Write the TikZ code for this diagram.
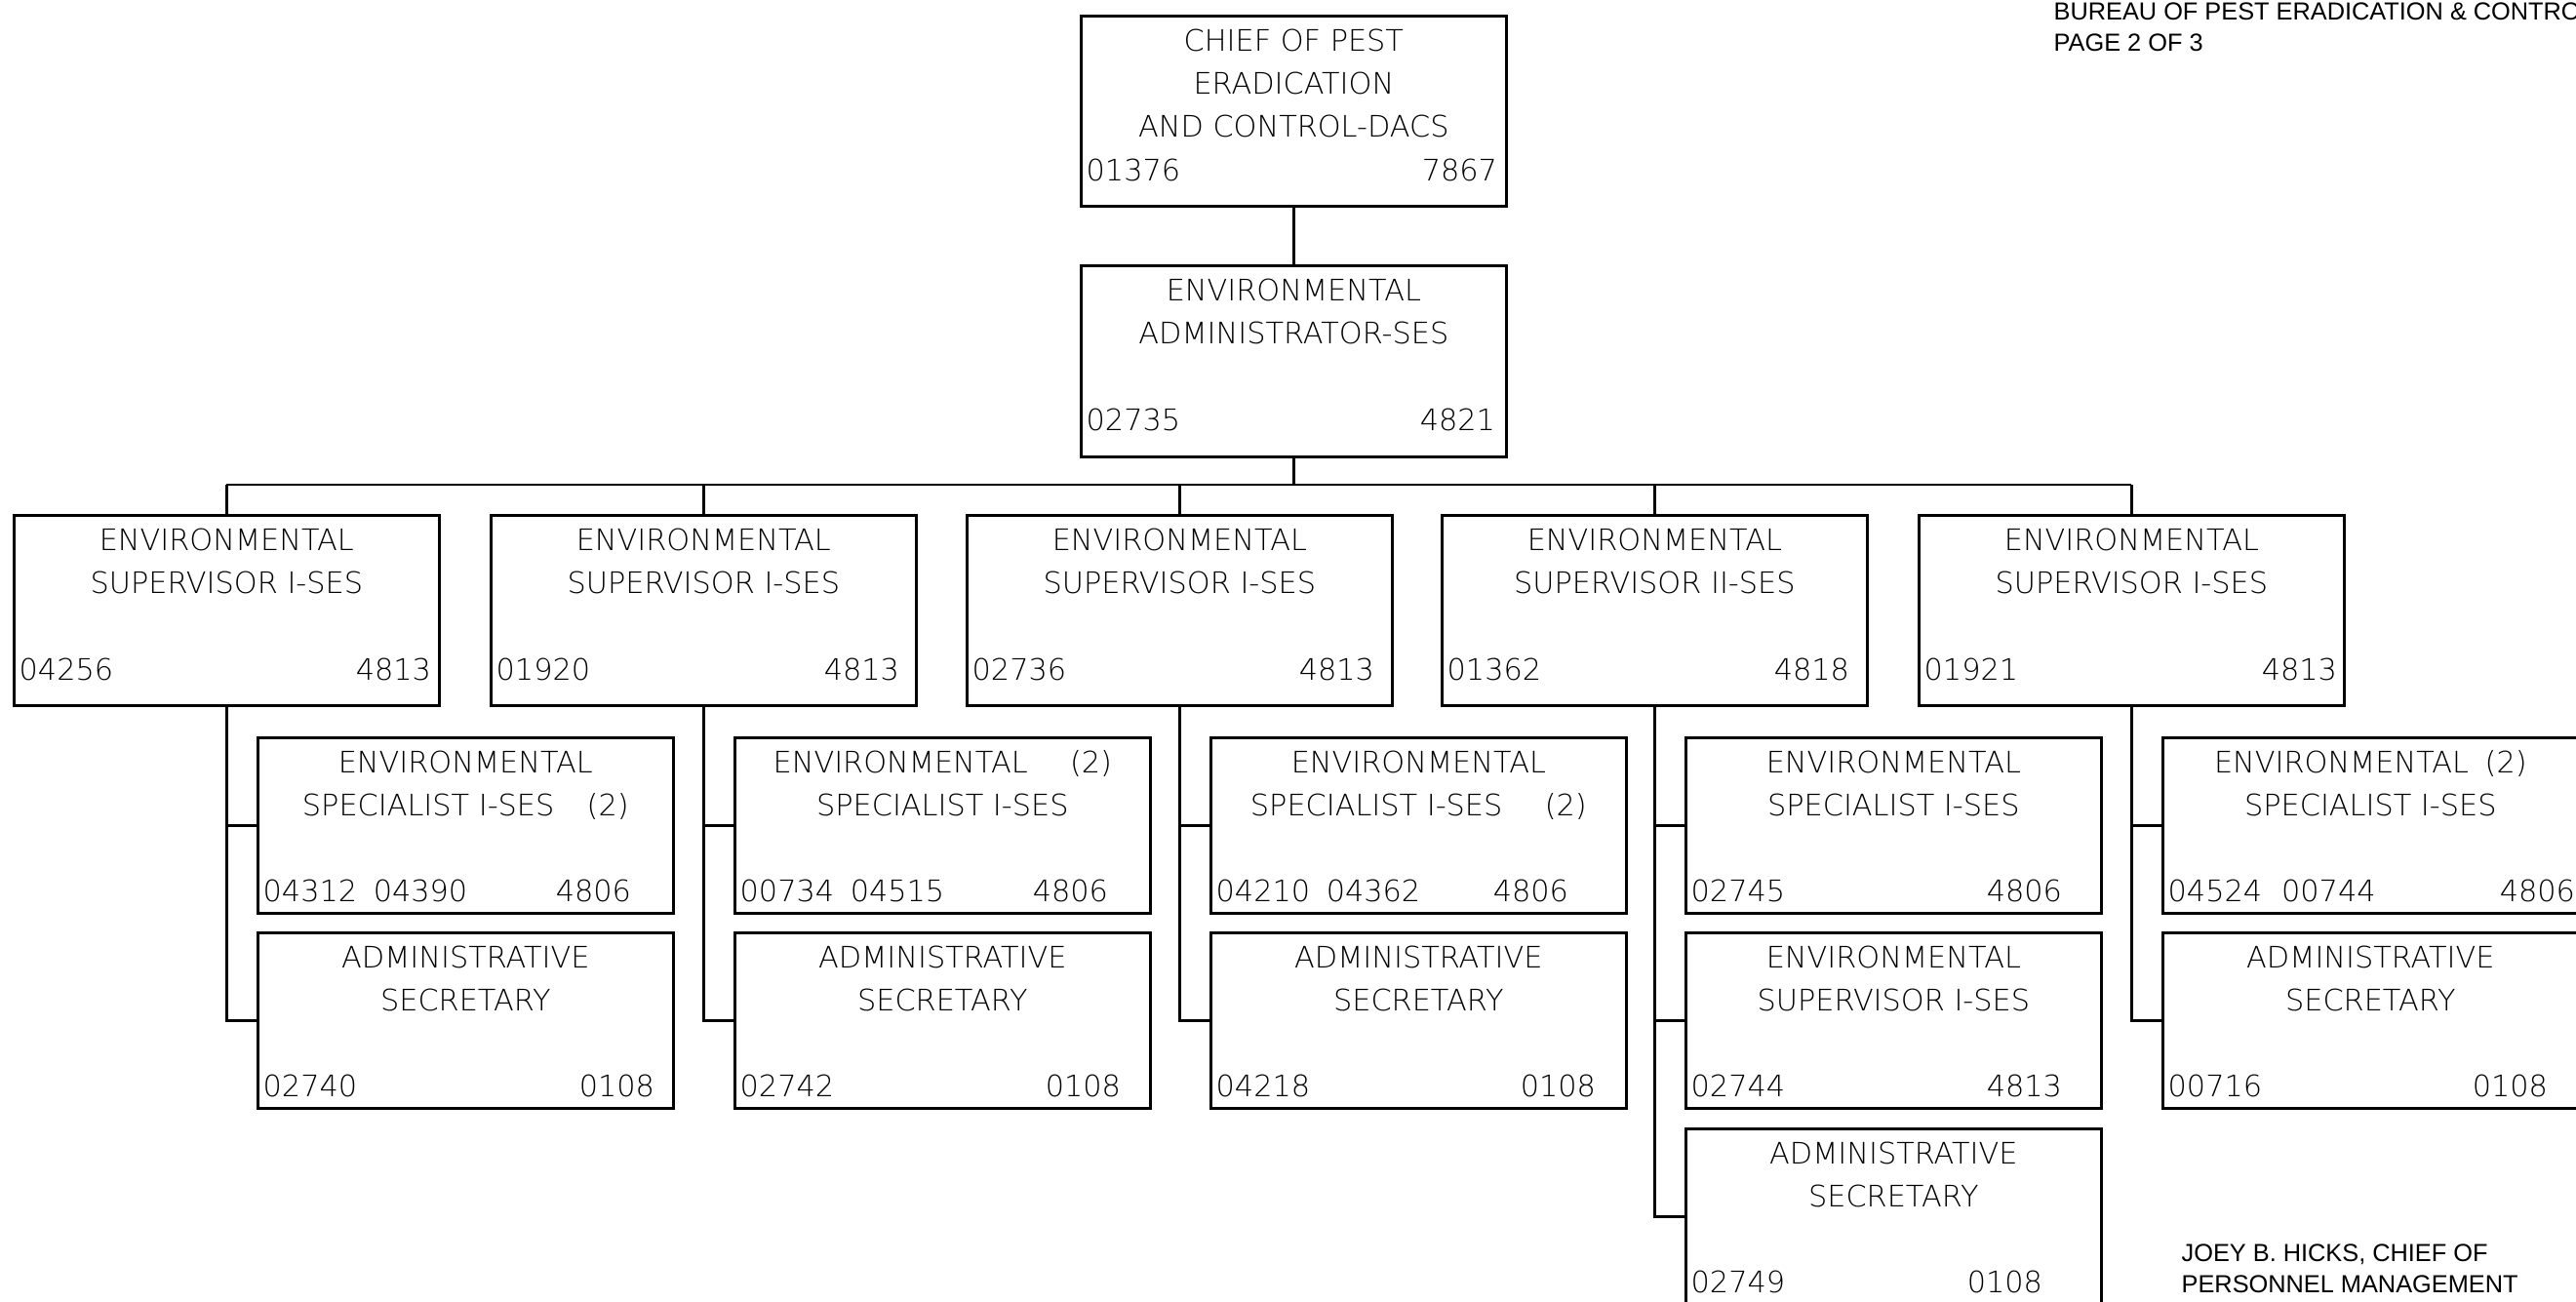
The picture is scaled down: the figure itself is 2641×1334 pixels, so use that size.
\documentclass[tikz,border=0pt]{standalone}
\usepackage{fontspec}
\usetikzlibrary{calc}
\newfontfamily\boxfont{DejaVu Sans ExtraLight}
\newfontfamily\notefont{Liberation Sans}

% a position box: name, left x, top y, width, height (all in px units)
\newcommand\orgbox[5]{%
  \node[posbox,minimum width=#4*0.3pt,minimum height=#5*0.3pt] (#1) at (#2,#3) {};}
% title lines, hung from the top edge of a box
\newcommand\orgtitle[2]{%
  \node[boxtitle] (#1-t) at ($(#1.north)+(0,14)$) {#2};}
% position numbers: name, left text, right text, right gap, baseline lift
\newcommand\orgnums[5]{%
  \node[numl] (#1-l) at ($(#1.south west)+(6,-#5)$) {#2};
  \node[numr] (#1-r) at ($(#1.south east)+(-#4,-#5)$) {#3};}

\begin{document}
\begin{tikzpicture}[x=0.3pt,y=-0.3pt,
  posbox/.style={draw,line width=0.8pt,rectangle,inner sep=0pt,anchor=north west},
  wire/.style={line width=0.8pt},
  boxtitle/.style={anchor=north,inner sep=0pt,align=center,
    font=\boxfont\fontsize{9.1}{13.2}\selectfont},
  numl/.style={anchor=base west,inner sep=0pt,font=\boxfont\fontsize{9.1}{11}\selectfont},
  numr/.style={anchor=base east,inner sep=0pt,font=\boxfont\fontsize{9.1}{11}\selectfont},
  note/.style={anchor=base west,inner sep=0pt,align=left,
    font=\notefont\fontsize{7.6}{9.4}\selectfont}]
\useasboundingbox (0,0) rectangle (2641,1334);

% ---- header and signature notes (placed by the baseline of their last line)
\node[note] (hdr) at (2105,52) {BUREAU OF PEST ERADICATION \& CONTROL\\PAGE 2 OF 3};
\node[note] (sig) at (2236,1325) {JOEY B. HICKS, CHIEF OF\\PERSONNEL MANAGEMENT};

% ---- chief and administrator
\orgbox{chief}{1107}{15}{436}{195}
\orgtitle{chief}{CHIEF OF PEST\\ERADICATION\\AND CONTROL-DACS}
\orgnums{chief}{01376}{7867}{10}{27}

\orgbox{admin}{1107}{271}{436}{196}
\orgtitle{admin}{ENVIRONMENTAL\\ADMINISTRATOR-SES}
\orgnums{admin}{02735}{4821}{12}{28}

% ---- supervisors
\orgbox{supA}{13}{527}{436}{195}
\orgtitle{supA}{ENVIRONMENTAL\\SUPERVISOR I-SES}
\orgnums{supA}{04256}{4813}{9}{27}

\orgbox{supB}{502}{527}{436}{195}
\orgtitle{supB}{ENVIRONMENTAL\\SUPERVISOR I-SES}
\orgnums{supB}{01920}{4813}{18}{27}

\orgbox{supC}{990}{527}{436}{195}
\orgtitle{supC}{ENVIRONMENTAL\\SUPERVISOR I-SES}
\orgnums{supC}{02736}{4813}{19}{27}

\orgbox{supD}{1477}{527}{436}{195}
\orgtitle{supD}{ENVIRONMENTAL\\SUPERVISOR II-SES}
\orgnums{supD}{01362}{4818}{19}{27}

\orgbox{supE}{1966}{527}{436}{195}
\orgtitle{supE}{ENVIRONMENTAL\\SUPERVISOR I-SES}
\orgnums{supE}{01921}{4813}{8}{27}

% ---- staff under supervisor A
\orgbox{specA}{263}{755}{426}{180}
\orgtitle{specA}{ENVIRONMENTAL\\SPECIALIST I-SES\hspace{10pt}(2)}
\orgnums{specA}{04312\hspace{5pt}04390}{4806}{44}{13}

\orgbox{secA}{263}{955}{426}{180}
\orgtitle{secA}{ADMINISTRATIVE\\SECRETARY}
\orgnums{secA}{02740}{0108}{20}{13}

% ---- staff under supervisor B
\orgbox{specB}{752}{755}{426}{180}
\orgtitle{specB}{ENVIRONMENTAL\hspace{13pt}(2)\\SPECIALIST I-SES}
\orgnums{specB}{00734\hspace{5pt}04515}{4806}{44}{13}

\orgbox{secB}{752}{955}{426}{180}
\orgtitle{secB}{ADMINISTRATIVE\\SECRETARY}
\orgnums{secB}{02742}{0108}{31}{13}

% ---- staff under supervisor C
\orgbox{specC}{1240}{755}{426}{180}
\orgtitle{specC}{ENVIRONMENTAL\\SPECIALIST I-SES\hspace{13pt}(2)}
\orgnums{specC}{04210\hspace{5pt}04362}{4806}{60}{13}

\orgbox{secC}{1240}{955}{426}{180}
\orgtitle{secC}{ADMINISTRATIVE\\SECRETARY}
\orgnums{secC}{04218}{0108}{32}{13}

% ---- staff under supervisor D
\orgbox{specD}{1727}{755}{426}{180}
\orgtitle{specD}{ENVIRONMENTAL\\SPECIALIST I-SES}
\orgnums{specD}{02745}{4806}{41}{13}

\orgbox{supD2}{1727}{955}{426}{180}
\orgtitle{supD2}{ENVIRONMENTAL\\SUPERVISOR I-SES}
\orgnums{supD2}{02744}{4813}{41}{13}

\orgbox{secD}{1727}{1156}{426}{180}
\orgtitle{secD}{ADMINISTRATIVE\\SECRETARY}
\orgnums{secD}{02749}{0108}{61}{13}

% ---- staff under supervisor E
\orgbox{specE}{2216}{755}{426}{180}
\orgtitle{specE}{ENVIRONMENTAL\hspace{5pt}(2)\\SPECIALIST I-SES}
\orgnums{specE}{04524\hspace{6pt}00744}{4806}{4}{13}

\orgbox{secE}{2216}{955}{426}{180}
\orgtitle{secE}{ADMINISTRATIVE\\SECRETARY}
\orgnums{secE}{00716}{0108}{32}{13}

% ---- connectors
\coordinate (bus) at (0,497);
\draw[wire] (chief.south) -- (admin.north);
\draw[wire] (admin.south) -- (admin.south |- bus);
\draw[wire] (supA.north |- bus) -- (supE.north |- bus);
\foreach \s in {supA,supB,supC,supD,supE}
  \draw[wire] (\s.north |- bus) -- (\s.north);

\draw[wire] (supA.south) |- (specA.west);
\draw[wire] (supA.south) |- (secA.west);
\draw[wire] (supB.south) |- (specB.west);
\draw[wire] (supB.south) |- (secB.west);
\draw[wire] (supC.south) |- (specC.west);
\draw[wire] (supC.south) |- (secC.west);
\draw[wire] (supD.south) |- (specD.west);
\draw[wire] (supD.south) |- (supD2.west);
\draw[wire] (supD.south) |- (secD.west);
\draw[wire] (supE.south) |- (specE.west);
\draw[wire] (supE.south) |- (secE.west);
\end{tikzpicture}
\end{document}
